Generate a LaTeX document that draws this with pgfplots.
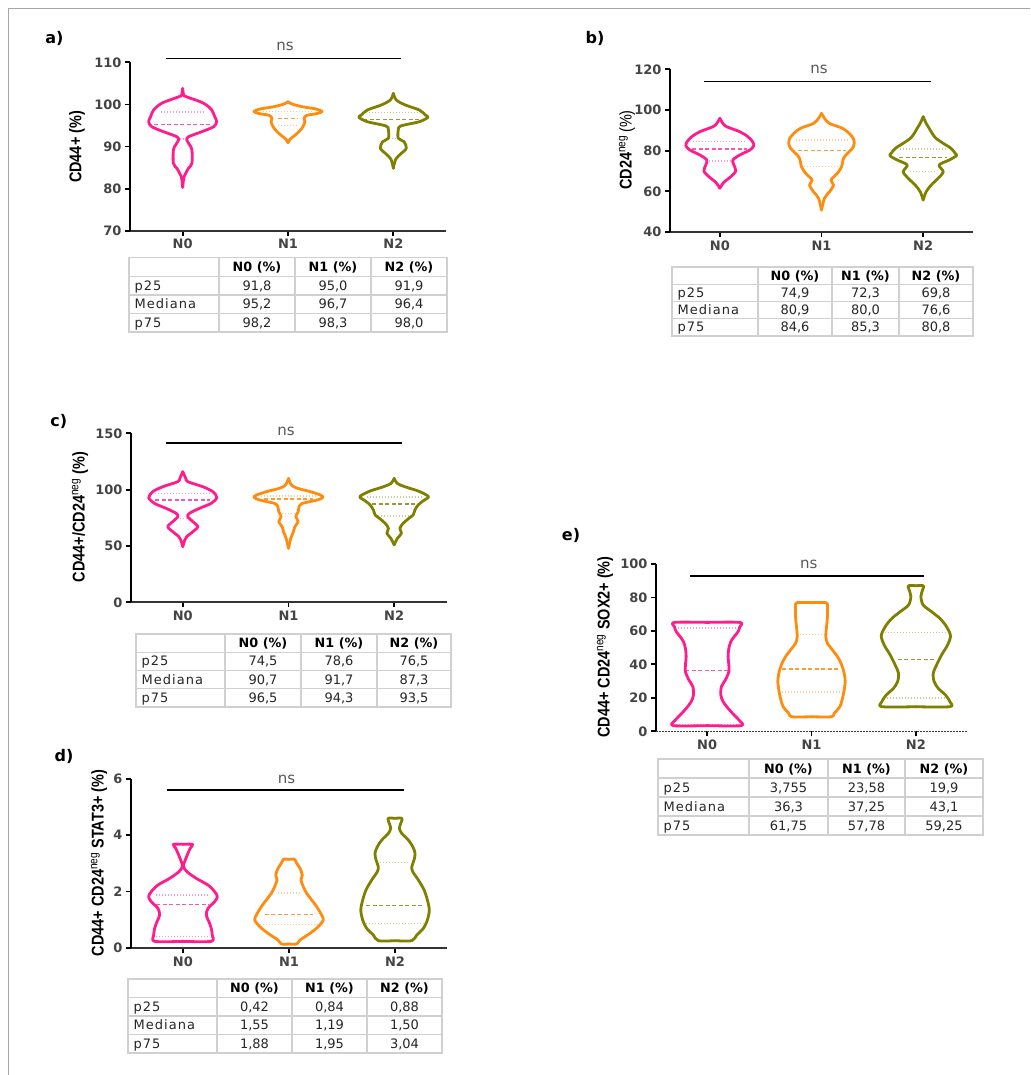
\documentclass[border=0pt]{standalone}
\usepackage{fontspec}
\setmainfont{DejaVu Sans}
\newfontfamily\labfont[FakeStretch=0.85]{Liberation Sans}
\usepackage{pgfplots}
\usepackage{pgfplotstable}
\pgfplotsset{compat=1.18}
\definecolor{cpink}{RGB}{255,28,140}
\definecolor{corange}{RGB}{255,140,15}
\definecolor{colive}{RGB}{128,128,0}
\definecolor{ticktxt}{RGB}{68,68,68}
\definecolor{tabgray}{RGB}{208,208,208}

% ---------- violin outlines: y value, half width (x units) ----------
% panel a
\pgfplotstableread{
y w
103.8 0
102.2 0.010
101.8 0.038
100.3 0.197
98.7 0.275
97.1 0.304
95.9 0.323
94.7 0.294
93.5 0.180
92.3 0.054
91.5 0.040
90.4 0.066
89.2 0.088
86.0 0.088
84.8 0.054
83.6 0.028
82.8 0.012
80.3 0
}\vaA
\pgfplotstableread{
y w
100.64 0
100.1 0.038
99.46 0.133
98.91 0.266
98.35 0.323
97.88 0.285
97.40 0.180
96.69 0.152
95.90 0.161
94.71 0.142
93.52 0.104
92.49 0.057
91.70 0.019
90.91 0
}\vaB
\pgfplotstableread{
y w
102.64 0
101.05 0.028
99.86 0.114
98.67 0.247
97.48 0.304
96.93 0.328
95.89 0.247
94.87 0.069
93.92 0.047
91.94 0.047
91.14 0.102
89.57 0.123
88.22 0.069
86.96 0.022
84.82 0
}\vaC
% panel b
\pgfplotstableread{
y w
95.9 0
93.45 0.029
91.8 0.066
89.3 0.197
86.9 0.275
84.4 0.322
82.45 0.334
80.3 0.295
77.9 0.197
75.4 0.128
72.95 0.138
70.0 0.157
67.2 0.108
64.4 0.039
61.5 0
}\vbA
\pgfplotstableread{
y w
98.37 0
95.9 0.029
93.45 0.076
91.0 0.206
88.5 0.272
86.1 0.312
83.6 0.322
81.2 0.305
78.7 0.256
76.2 0.216
72.1 0.197
68.9 0.157
65.6 0.093
63.1 0.118
59.8 0.079
56.6 0.029
50.8 0
}\vbB
\pgfplotstableread{
y w
96.7 0
93.45 0.029
91.0 0.059
88.5 0.088
86.1 0.125
83.6 0.197
81.2 0.272
78.7 0.315
77.5 0.327
75.4 0.256
72.95 0.157
69.65 0.197
66.4 0.147
63.1 0.079
59.8 0.029
55.7 0
}\vbC
% panel c
\pgfplotstableread{
y w
115.95 0
110.0 0.028
107.07 0.047
102.6 0.189
98.2 0.284
92.9 0.322
87.8 0.268
83.4 0.158
79.0 0.063
76.0 0.047
71.6 0.095
67.1 0.142
62.7 0.095
58.3 0.038
55.3 0.019
49.4 0
}\vcA
\pgfplotstableread{
y w
110.0 0
104.1 0.028
101.2 0.085
98.2 0.208
95.2 0.303
93.2 0.326
90.8 0.274
87.8 0.132
84.9 0.101
80.4 0.092
76.0 0.069
71.6 0.092
67.1 0.060
62.7 0.047
56.8 0.022
47.9 0
}\vcB
\pgfplotstableread{
y w
110.0 0
105.6 0.028
102.6 0.101
98.8 0.227
95.2 0.306
93.2 0.324
90.0 0.274
86.4 0.227
81.9 0.196
77.5 0.180
74.5 0.139
70.1 0.085
65.7 0.054
61.2 0.069
56.8 0.031
50.9 0
}\vcC
% panel d
\pgfplotstableread{
y w
3.674 0
3.674 0.090
3.532 0.068
3.236 0.034
2.906 0.005
2.705 0.038
2.469 0.125
2.232 0.236
1.996 0.299
1.819 0.324
1.642 0.299
1.406 0.236
1.169 0.220
0.933 0.245
0.697 0.267
0.461 0.276
0.236 0.267
0.236 0
}\vdA
\pgfplotstableread{
y w
3.142 0
3.142 0.052
3.0 0.073
2.823 0.104
2.587 0.125
2.410 0.113
2.173 0.135
1.937 0.167
1.701 0.214
1.465 0.261
1.169 0.308
0.992 0.323
0.756 0.276
0.520 0.198
0.283 0.104
0.142 0.071
0.142 0
}\vdB
\pgfplotstableread{
y w
4.595 0
4.595 0.066
4.418 0.054
4.241 0.041
4.063 0.063
3.827 0.125
3.591 0.167
3.355 0.189
3.118 0.179
2.882 0.158
2.705 0.167
2.410 0.220
2.055 0.274
1.701 0.305
1.347 0.323
0.992 0.305
0.697 0.267
0.461 0.205
0.260 0.158
0.260 0
}\vdC
% panel e
\pgfplotstableread{
y w
65.1 0
65.1 0.314
62.5 0.313
59.6 0.297
56.6 0.259
53.6 0.227
49.6 0.208
44.6 0.201
39.6 0.208
35.6 0.208
30.7 0.175
26.7 0.137
21.7 0.131
17.7 0.153
13.7 0.201
9.7 0.259
6.8 0.304
3.4 0.326
3.4 0
}\veA
\pgfplotstableread{
y w
76.9 0
76.9 0.139
74.5 0.153
68.5 0.153
62.5 0.144
56.6 0.137
52.6 0.153
48.6 0.201
44.6 0.249
39.6 0.290
34.7 0.313
29.7 0.323
24.7 0.313
19.7 0.297
14.7 0.271
10.7 0.217
8.7 0.192
8.7 0
}\veB
\pgfplotstableread{
y w
87.0 0
87.0 0.072
84.5 0.064
80.5 0.048
75.5 0.070
71.5 0.150
67.5 0.230
63.5 0.284
59.6 0.319
56.6 0.332
51.6 0.304
45.6 0.246
39.6 0.198
34.7 0.166
29.7 0.175
25.7 0.214
21.7 0.284
17.7 0.326
14.7 0.326
14.7 0
}\veC

\tikzset{
  vio/.style={line width=2.8pt, smooth, tension=0.5, line join=round, line cap=round},
  qmed/.style={line width=1.4pt, dash pattern=on 4pt off 2.5pt},
  qq/.style={line width=1.3pt, dash pattern=on 1pt off 2pt},
  tabline/.style={draw=tabgray, line width=1.4pt},
  tabhead/.style={font=\fontsize{12.8}{14}\selectfont\bfseries, text=black, anchor=base},
  tabcell/.style={font=\fontsize{13}{14}\selectfont, text=black!85, anchor=base},
  tabrowl/.style={font=\fontsize{13}{14}\selectfont\addfontfeature{LetterSpace=8}, text=black!85, anchor=base west},
  ylab/.style={rotate=90, font=\labfont\fontsize{17}{18}\selectfont\bfseries, text=black},
  nsl/.style={font=\fontsize{15}{16}\selectfont, text=black!65},
  plab/.style={font=\fontsize{16}{17}\selectfont\bfseries, text=black},
}

\pgfplotsset{vplot/.style={
  scale only axis, anchor=south west, enlargelimits=false,
  axis x line*=bottom, axis y line*=left,
  x axis line style={-, line width=1.8pt, draw=black!80},
  y axis line style={-, line width=2.8pt, draw=black},
  xtick={0,1,2}, xticklabels={N0,N1,N2},
  tick align=outside, major tick length=5pt,
  xtick style={line width=1.8pt, draw=black},
  ytick style={line width=1.8pt, draw=black},
  minor tick num=0,
  ticklabel style={font=\fontsize{13}{14}\selectfont\bfseries, text=ticktxt},
  /pgf/number format/assume math mode=true,
  clip=false,
}}

\newcommand{\violin}[3]{%
  \addplot[vio, draw=#1] table[x expr={#2+\thisrow{w}}, y=y] {#3};
  \addplot[vio, draw=#1] table[x expr={#2-\thisrow{w}}, y=y] {#3};
}

\newcommand{\drawtab}[7]{%
  \gdef\tXa{#2}\gdef\tXb{#3}\gdef\tXc{#4}\gdef\tXd{#5}\gdef\tY{#6}\gdef\tH{#7}%
  \draw[tabline] (#1,#6) rectangle (#5,{#6+4*#7});
  \foreach \xx in {#2,#3,#4} {\draw[tabline] (\xx,#6) -- (\xx,{#6+4*#7});}
  \foreach \k in {1,2,3} {\draw[tabline] (#1,{#6+\k*#7}) -- (#5,{#6+\k*#7});}
  \node[tabhead] at ({(#2+#3)/2},{#6+0.5*#7+4.6}) {N0 (\%)};
  \node[tabhead] at ({(#3+#4)/2},{#6+0.5*#7+4.6}) {N1 (\%)};
  \node[tabhead] at ({(#4+#5)/2},{#6+0.5*#7+4.6}) {N2 (\%)};
  \node[tabrowl] at ({#1+2},{#6+1.5*#7+4.6}) {p25};
  \node[tabrowl] at ({#1+2},{#6+2.5*#7+4.6}) {Mediana};
  \node[tabrowl] at ({#1+2},{#6+3.5*#7+4.6}) {p75};
}
\newcommand{\tabvals}[9]{%
  \node[tabcell] at ({(\tXa+\tXb)/2},{\tY+1.5*\tH+4.6}) {#1};
  \node[tabcell] at ({(\tXb+\tXc)/2},{\tY+1.5*\tH+4.6}) {#2};
  \node[tabcell] at ({(\tXc+\tXd)/2},{\tY+1.5*\tH+4.6}) {#3};
  \node[tabcell] at ({(\tXa+\tXb)/2},{\tY+2.5*\tH+4.6}) {#4};
  \node[tabcell] at ({(\tXb+\tXc)/2},{\tY+2.5*\tH+4.6}) {#5};
  \node[tabcell] at ({(\tXc+\tXd)/2},{\tY+2.5*\tH+4.6}) {#6};
  \node[tabcell] at ({(\tXa+\tXb)/2},{\tY+3.5*\tH+4.6}) {#7};
  \node[tabcell] at ({(\tXb+\tXc)/2},{\tY+3.5*\tH+4.6}) {#8};
  \node[tabcell] at ({(\tXc+\tXd)/2},{\tY+3.5*\tH+4.6}) {#9};
}

\begin{document}
\begin{tikzpicture}
\useasboundingbox[fill=white] (0,0) rectangle (1030pt,-1075pt);

% ---------------- a ----------------
\begin{axis}[vplot, at={(130pt,-230.7pt)}, width=316pt, height=168.4pt,
  xmin=-0.5, xmax=2.5, ymin=70, ymax=110, ytick={70,80,...,110}]
\addplot[qq, draw=cpink!45] coordinates {(-0.206,98.2) (0.206,98.2)};
\addplot[qmed, draw=cpink!75] coordinates {(-0.27,95.2) (0.27,95.2)};
\addplot[qq, draw=cpink!45] coordinates {(-0.03,91.8) (0.03,91.8)};
\addplot[qq, draw=corange!45] coordinates {(0.763,98.3) (1.237,98.3)};
\addplot[qmed, draw=corange!85] coordinates {(0.905,96.7) (1.095,96.7)};
\addplot[qq, draw=corange!45] coordinates {(0.905,95.0) (1.095,95.0)};
\addplot[qq, draw=colive!40] coordinates {(1.77,98.0) (2.23,98.0)};
\addplot[qmed, draw=colive!80] coordinates {(1.715,96.4) (2.285,96.4)};
\addplot[qq, draw=colive!40] coordinates {(1.96,91.9) (2.04,91.9)};
\violin{cpink}{0}{\vaA}
\violin{corange}{1}{\vaB}
\violin{colive}{2}{\vaC}
\end{axis}

% ---------------- b ----------------
\begin{axis}[vplot, at={(670pt,-232pt)}, width=303pt, height=162.7pt,
  xmin=-0.49, xmax=2.49, ymin=40, ymax=120, ytick={40,60,...,120}]
\addplot[qq, draw=cpink!45] coordinates {(-0.262,84.6) (0.262,84.6)};
\addplot[qmed, draw=cpink!75] coordinates {(-0.27,80.9) (0.27,80.9)};
\addplot[qq, draw=cpink!45] coordinates {(-0.108,74.9) (0.108,74.9)};
\addplot[qq, draw=corange!45] coordinates {(0.745,85.3) (1.255,85.3)};
\addplot[qmed, draw=corange!85] coordinates {(0.764,80.0) (1.236,80.0)};
\addplot[qq, draw=corange!45] coordinates {(0.823,72.3) (1.177,72.3)};
\addplot[qq, draw=colive!40] coordinates {(1.774,80.8) (2.226,80.8)};
\addplot[qmed, draw=colive!80] coordinates {(1.764,76.6) (2.236,76.6)};
\addplot[qq, draw=colive!40] coordinates {(1.872,69.8) (2.128,69.8)};
\violin{cpink}{0}{\vbA}
\violin{corange}{1}{\vbB}
\violin{colive}{2}{\vbC}
\end{axis}

% ---------------- c ----------------
\begin{axis}[vplot, at={(131pt,-602.3pt)}, width=316pt, height=169pt,
  xmin=-0.49, xmax=2.5, ymin=0, ymax=150, ytick={0,50,100,150}]
\addplot[qq, draw=cpink!45] coordinates {(-0.26,96.5) (0.26,96.5)};
\addplot[qmed, draw=cpink!75] coordinates {(-0.26,90.7) (0.26,90.7)};
\addplot[qq, draw=cpink!45] coordinates {(-0.03,74.5) (0.03,74.5)};
\addplot[qq, draw=corange!45] coordinates {(0.74,94.3) (1.26,94.3)};
\addplot[qmed, draw=corange!85] coordinates {(0.77,91.7) (1.23,91.7)};
\addplot[qq, draw=corange!45] coordinates {(0.934,78.6) (1.066,78.6)};
\addplot[qq, draw=colive!40] coordinates {(1.74,93.5) (2.26,93.5)};
\addplot[qmed, draw=colive!80] coordinates {(1.795,87.3) (2.205,87.3)};
\addplot[qq, draw=colive!40] coordinates {(1.85,76.5) (2.15,76.5)};
\violin{cpink}{0}{\vcA}
\violin{corange}{1}{\vcB}
\violin{colive}{2}{\vcC}
\end{axis}

% ---------------- d ----------------
\begin{axis}[vplot, at={(131pt,-948pt)}, width=316pt, height=169.3pt,
  xmin=-0.49, xmax=2.49, ymin=0, ymax=6, ytick={0,2,4,6}]
\addplot[qq, draw=cpink!45] coordinates {(-0.25,1.88) (0.25,1.88)};
\addplot[qmed, draw=cpink!75] coordinates {(-0.25,1.55) (0.25,1.55)};
\addplot[qq, draw=cpink!45] coordinates {(-0.25,0.42) (0.25,0.42)};
\addplot[qq, draw=corange!45] coordinates {(0.9,1.95) (1.1,1.95)};
\addplot[qmed, draw=corange!85] coordinates {(0.77,1.19) (1.23,1.19)};
\addplot[qq, draw=corange!45] coordinates {(0.73,0.84) (1.27,0.84)};
\addplot[qq, draw=colive!40] coordinates {(1.86,3.04) (2.14,3.04)};
\addplot[qmed, draw=colive!80] coordinates {(1.73,1.50) (2.27,1.50)};
\addplot[qq, draw=colive!40] coordinates {(1.725,0.88) (2.275,0.88)};
\violin{cpink}{0}{\vdA}
\violin{corange}{1}{\vdB}
\violin{colive}{2}{\vdC}
\end{axis}

% ---------------- e ----------------
\begin{axis}[vplot, at={(656pt,-731.3pt)}, width=311pt, height=167.3pt,
  xmin=-0.49, xmax=2.49, ymin=0, ymax=100, ytick={0,20,...,100},
  x axis line style={-, line width=1.4pt, draw=black!75, dash pattern=on 1.5pt off 1.5pt}]
\addplot[qq, draw=cpink!45] coordinates {(-0.28,61.75) (0.28,61.75)};
\addplot[qmed, draw=cpink!75] coordinates {(-0.208,36.3) (0.208,36.3)};
\addplot[qq, draw=cpink!45] coordinates {(-0.3,3.755) (0.3,3.755)};
\addplot[qq, draw=corange!45] coordinates {(0.865,57.78) (1.135,57.78)};
\addplot[qmed, draw=corange!85] coordinates {(0.72,37.25) (1.28,37.25)};
\addplot[qq, draw=corange!45] coordinates {(0.72,23.58) (1.28,23.58)};
\addplot[qq, draw=colive!40] coordinates {(1.7,59.25) (2.3,59.25)};
\addplot[qmed, draw=colive!80] coordinates {(1.825,43.1) (2.175,43.1)};
\addplot[qq, draw=colive!40] coordinates {(1.72,19.9) (2.28,19.9)};
\violin{cpink}{0}{\veA}
\violin{corange}{1}{\veB}
\violin{colive}{2}{\veC}
\end{axis}

% ---------------- annotations and tables ----------------
\begin{scope}[x=1pt, y=-1pt]
\draw[black!35, line width=0.9pt] (8,1075) -- (8,8) -- (1030,8);

\node[plab] at (54.5,38.3) {a)};
\node[plab] at (595,38) {b)};
\node[plab] at (58.7,421) {c)};
\node[plab] at (64,756) {d)};
\node[plab] at (571,535) {e)};

\draw[line width=1.3pt] (166,58.7) -- (401,58.7);  \node[nsl] at (285,46) {ns};
\draw[line width=1.3pt] (704,81.3) -- (931,81.3);  \node[nsl] at (819,69) {ns};
\draw[line width=1.3pt] (166,443) -- (402,443);    \node[nsl] at (286,431) {ns};
\draw[line width=1.3pt] (167,790) -- (404,790);    \node[nsl] at (286.5,779) {ns};
\draw[line width=1.3pt] (690,576) -- (924,576);    \node[nsl] at (808.7,564) {ns};

\node[ylab] at (77,147) {CD44+ (\%)};
\node[ylab] at (627,150) {CD24\textsuperscript{\mdseries neg}\,{\mdseries(\%)}};
\node[ylab] at (80,517) {CD44+/CD24\textsuperscript{\mdseries neg} (\%)};
\node[ylab] at (99,863) {CD44+ CD24\textsuperscript{\mdseries neg} STAT3+ (\%)};
\node[ylab] at (605,647) {CD44+ CD24\textsuperscript{\mdseries neg} SOX2+ (\%)};

\drawtab{129}{219}{295}{371}{447}{257.7}{18.6}
\tabvals{91,8}{95,0}{91,9}{95,2}{96,7}{96,4}{98,2}{98,3}{98,0}

\drawtab{672}{758}{832}{899}{973}{267}{17.25}
\tabvals{74,9}{72,3}{69,8}{80,9}{80,0}{76,6}{84,6}{85,3}{80,8}

\drawtab{136}{225}{301}{377}{451}{634}{18.25}
\tabvals{74,5}{78,6}{76,5}{90,7}{91,7}{87,3}{96,5}{94,3}{93,5}

\drawtab{128}{217}{292}{367}{442}{979}{18.5}
\tabvals{0,42}{0,84}{0,88}{1,55}{1,19}{1,50}{1,88}{1,95}{3,04}

\drawtab{658}{749}{828}{905}{983}{759}{19}
\tabvals{3,755}{23,58}{19,9}{36,3}{37,25}{43,1}{61,75}{57,78}{59,25}
\end{scope}
\end{tikzpicture}
\end{document}
